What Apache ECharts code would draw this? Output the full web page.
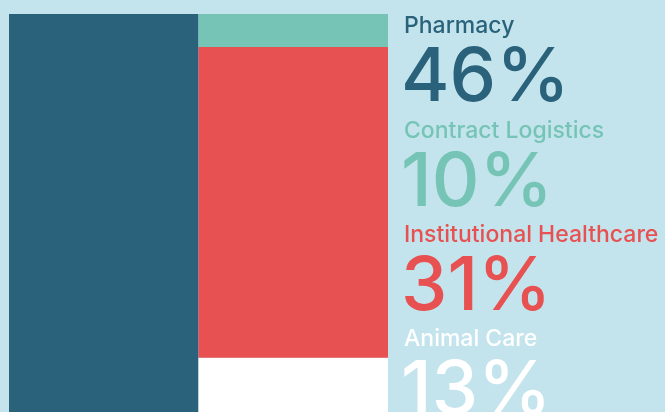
<!DOCTYPE html>
<html>
<head>
<meta charset="utf-8">
<script src="https://cdn.jsdelivr.net/npm/echarts@6/dist/echarts.min.js"></script>
<style>
  html, body { margin: 0; padding: 0; background: #c3e4ec; }
  #chart { width: 665px; height: 412px; }
</style>
</head>
<body>
<div id="chart"></div>
<script>
// segment names and the share printed next to each one
var segments = ['Pharmacy', 'Contract Logistics', 'Institutional Healthcare', 'Animal Care'];
var shares = [46, 10, 31, 13];
// block heights as drawn (share of the visible column height)
var blockHeights = [100, 8.3, 78.1, 13.6];
var columns = ['left', 'right'];

var palette = ['#2a627b', '#76c4b6', '#e85152', '#ffffff'];

var chart = echarts.init(document.getElementById('chart'));

// left column holds Pharmacy, right column stacks Animal Care, Institutional, Contract (bottom to top)
var series = [];
var stackOrder = [0, 3, 2, 1];
for (var k = 0; k < stackOrder.length; k++) {
  var i = stackOrder[k];
  series.push({
    name: segments[i],
    type: 'bar',
    stack: 'all',
    barWidth: '100%',
    silent: true,
    itemStyle: { color: palette[i] },
    data: i === 0 ? [blockHeights[i], '-'] : ['-', blockHeights[i]]
  });
}

var texts = [];
for (var j = 0; j < segments.length; j++) {
  var step = j * 104.3;
  texts.push({
    type: 'text',
    left: 404,
    top: 15 + step,
    style: {
      text: segments[j],
      font: '500 23px Inter',
      fill: palette[j]
    }
  });
  texts.push({
    type: 'text',
    left: 401,
    top: 42 + step,
    style: {
      text: shares[j] + '%',
      font: '450 74px Inter',
      fill: palette[j]
    }
  });
}

chart.setOption({
  backgroundColor: '#c3e4ec',
  animation: false,
  grid: { left: 9, right: 277, top: 14, bottom: 0 },
  xAxis: { type: 'category', data: columns, show: false },
  yAxis: { type: 'value', min: 0, max: 100, show: false },
  series: series,
  graphic: texts
});
</script>
</body>
</html>
